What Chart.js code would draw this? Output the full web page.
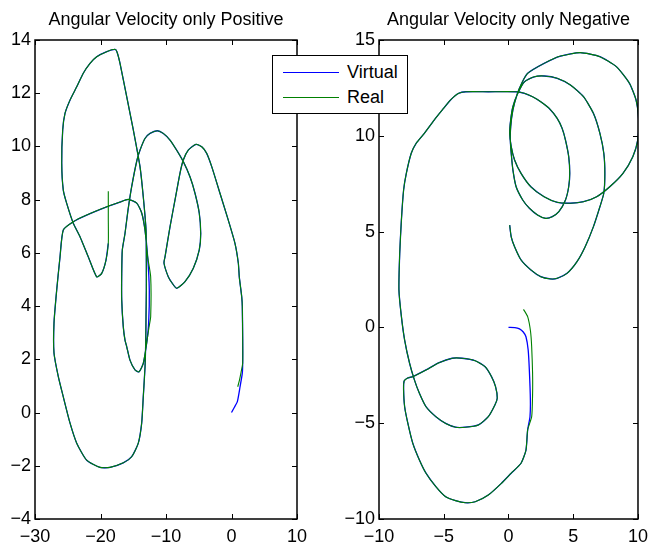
<!DOCTYPE html>
<html>
<head>
<meta charset="utf-8">
<title>Angular Velocity</title>
<script src="https://cdn.jsdelivr.net/npm/chart.js"></script>
<style>
  body { margin: 0; background: #fff; width: 655px; height: 546px; position: relative; overflow: hidden; }
  canvas { position: absolute; top: 0; }
  #legend { position: absolute; left: 272px; top: 55px; width: 134px; height: 57px; background: #fff;
            border: 1px solid #000; font: 18px 'Liberation Sans', Arial, sans-serif; color: #000; z-index: 2; }
  #legend .ln { position: absolute; left: 10px; width: 56px; height: 0; border-top: 1px solid; }
  #legend .tx { position: absolute; left: 74px; line-height: 20px; }
</style>
</head>
<body>
<canvas id="leftChart" width="320" height="546" style="left:0"></canvas>
<canvas id="rightChart" width="315" height="546" style="left:340px"></canvas>
<div id="legend">
  <div class="ln" style="top:16px;border-color:#0000ff"></div><div class="tx" style="top:6px">Virtual</div>
  <div class="ln" style="top:41px;border-color:#008000"></div><div class="tx" style="top:31px">Real</div>
</div>
<script>
// left plot: angular velocity only positive
const leftVirtualStart = [[0,0],[0.38,0.17],[0.89,0.41],[1.30,0.96],[1.65,1.48]];
const leftRealStart = [[0.95,0.97],[1.2,1.2],[1.45,1.50]];
const leftCommonA = [[1.71,1.86],[1.71,2.72],[1.65,3.98],[1.56,4.35],[1.19,5.10],[1.04,5.62],[0.53,6.36],
  [-0.49,7.23],[-1.76,8.24],[-3.02,9.24],[-3.79,9.74],[-4.50,9.98],[-5.42,10.08],[-6.60,9.86],[-7.36,9.49],
  [-7.86,9.00],[-8.63,7.98],[-9.39,6.98],[-10.15,5.85],[-10.31,5.62],[-9.65,5.10],[-9.08,4.87],[-8.37,4.67],
  [-7.10,4.92],[-5.83,5.42],[-4.92,6.11],[-4.70,6.73],[-4.92,7.49],[-5.57,8.24],[-6.34,8.86],[-7.36,9.43],
  [-8.37,9.86],[-9.39,10.24],[-10.41,10.49],[-11.33,10.59],[-12.44,10.49],[-13.21,10.30],[-13.97,9.86],
  [-14.43,9.49],[-15.24,8.49],[-15.80,7.61],[-16.26,6.73],[-16.67,6.11],[-16.76,5.23],[-16.76,4.23],
  [-16.52,3.22],[-16.26,2.72],[-16.00,2.48],[-15.50,1.97],[-14.73,1.60],[-14.12,1.53],[-13.47,1.85]];
const leftVirtualMid = [[-12.95,2.61],[-12.65,3.36],[-12.55,4.60],[-12.8,5.85]];
const leftRealMid = [[-12.95,2.61],[-12.6,3.2],[-12.34,3.6],[-12.34,5.1],[-12.8,5.85]];
const leftCommonB = [[-13.21,6.86],[-13.71,7.50],[-14.47,7.87],[-15.76,8.01],[-17.02,7.91],[-19.05,7.73],
  [-22.11,7.42],[-24.15,7.17],[-25.68,6.86],[-26.18,5.85],[-26.69,4.60],[-27.10,3.36],[-27.10,2.24],
  [-26.44,1.35],[-25.68,0.59],[-24.66,-0.39],[-23.63,-1.15],[-22.11,-1.79],[-20.08,-2.06],[-18.55,-2.06],
  [-16.52,-1.89],[-15.24,-1.66],[-14.23,-1.15],[-13.71,-0.39],[-13.47,0.59],[-13.2,1.72],[-13.1,2.61],
  [-13.05,3.60],[-13.0,4.60],[-13.0,5.62],[-13.05,6.86],[-13.47,8.11],[-13.97,9.24],[-14.99,10.62],
  [-16.00,11.87],[-17.02,13.12],[-17.48,13.55],[-17.79,13.65],[-19.05,13.56],[-20.58,13.37],[-21.60,13.12],
  [-22.63,12.75],[-23.63,12.24],[-24.66,11.74],[-25.42,11.24],[-25.77,10.62],[-25.92,9.37],[-25.68,8.36],
  [-25.16,7.86],[-24.15,7.11],[-23.13,6.61],[-21.86,5.85],[-20.58,5.10],[-19.82,5.23],[-19.16,5.73],[-18.81,6.36]];
const leftRealEnd = [[-18.81,7.3],[-18.81,8.32]];

// right plot: angular velocity only negative
const rightVirtualStart = [[0,0],[0.49,-0.01],[0.85,-0.08],[1.14,-0.24],[1.35,-0.49],[1.52,-1.18],
  [1.61,-2.22],[1.69,-3.79],[1.66,-4.66]];
const rightRealStart = [[1.16,0.94],[1.48,0.56],[1.70,-0.2],[1.79,-1.01],[1.86,-2.38],[1.86,-3.5],[1.79,-4.66]];
const rightCommon = [[1.48,-5.35],[1.35,-6.40],[0.97,-7.09],[0.21,-7.61],[-0.55,-8.14],[-1.56,-8.75],
  [-2.57,-9.10],[-3.33,-9.15],[-4.09,-9.04],[-4.85,-8.84],[-5.61,-8.31],[-6.37,-7.61],[-6.88,-6.92],
  [-7.39,-6.05],[-7.77,-5.01],[-8.02,-4.14],[-8.10,-3.27],[-8.06,-2.80],[-7.79,-2.64],[-7.39,-2.57],
  [-6.37,-2.22],[-5.36,-1.84],[-4.35,-1.61],[-3.59,-1.61],[-2.57,-1.74],[-1.81,-2.05],[-1.31,-2.57],
  [-1.00,-3.09],[-0.87,-3.70],[-1.05,-4.05],[-1.56,-4.66],[-2.32,-5.09],[-3.33,-5.21],[-4.09,-5.21],
  [-4.85,-5.01],[-5.61,-4.66],[-6.37,-4.14],[-6.88,-3.44],[-7.26,-2.75],[-7.64,-1.87],[-8.02,-0.66],
  [-8.27,0.56],[-8.46,1.95],[-8.40,3.87],[-8.27,5.61],[-8.10,7.17],[-7.89,8.04],[-7.51,9.09],[-7.13,9.61],
  [-6.50,10.13],[-5.74,10.82],[-5.11,11.35],[-4.47,11.87],[-3.84,12.22],[-3.29,12.30],[-1.56,12.30],
  [0.59,12.30],[1.23,12.22],[1.86,12.04],[2.49,11.78],[3.13,11.44],[3.76,10.91],[4.14,10.39],[4.40,9.78],
  [4.65,8.91],[4.73,8.04],[4.65,7.34],[4.40,6.65],[3.89,6.04],[3.38,5.78],[2.87,5.69],[2.24,5.87],
  [1.61,6.22],[1.10,6.65],[0.59,7.34],[0.34,8.22],[0.21,9.09],[0.14,9.78],[0.17,10.48],[0.34,11.35],
  [0.65,12.13],[1.03,12.76],[1.48,13.26],[2.75,13.78],[4.02,14.16],[5.54,14.34],[7.06,14.13],[8.33,13.61],
  [9.34,12.74],[9.85,11.87],[10.05,10.83],[9.98,9.78],[9.60,8.91],[8.84,8.04],[7.82,7.34],[6.81,6.82],
  [5.79,6.56],[4.78,6.48],[3.76,6.53],[2.75,6.82],[1.73,7.34],[0.97,8.04],[0.47,8.74],[0.21,9.43],
  [0.09,10.13],[0.17,10.83],[0.34,11.52],[0.72,12.22],[1.23,12.82],[1.99,13.08],[2.75,13.12],[3.76,13.00],
  [4.78,12.65],[5.79,12.04],[6.56,11.17],[7.06,10.13],[7.36,9.09],[7.44,8.04],[7.36,7.00],[7.06,6.30],
  [6.56,5.26],[5.92,4.21],[5.29,3.43],[4.52,2.82],[3.76,2.56],[3.25,2.53],[2.49,2.65],[1.73,3.00],
  [0.97,3.52],[0.47,4.21],[0.21,4.73],[0.09,5.34]];

const leftTitle = 'Angular Velocity only Positive';
const rightTitle = 'Angular Velocity only Negative';
const leftXRange = [-30, 10, 10];
const leftYRange = [-4, 14, 2];
const rightXRange = [-10, 10, 5];
const rightYRange = [-10, 15, 5];

const FONT = "'Liberation Sans', Arial, Helvetica, sans-serif";
const pts = arr => arr.map(([x, y]) => ({ x, y }));

// matlab style box with inward ticks on all four sides
const boxTicks = {
  id: 'boxTicks',
  afterDraw(chart) {
    const { ctx, chartArea: a, scales: { x, y } } = chart;
    ctx.save();
    ctx.strokeStyle = '#000';
    ctx.lineWidth = 1;
    ctx.beginPath();
    x.ticks.forEach(t => {
      const p = Math.round(x.getPixelForValue(t.value)) + 0.5;
      ctx.moveTo(p, a.bottom); ctx.lineTo(p, a.bottom - 5);
      ctx.moveTo(p, a.top); ctx.lineTo(p, a.top + 5);
    });
    y.ticks.forEach(t => {
      const p = Math.round(y.getPixelForValue(t.value)) + 0.5;
      ctx.moveTo(a.left, p); ctx.lineTo(a.left + 5, p);
      ctx.moveTo(a.right, p); ctx.lineTo(a.right - 5, p);
    });
    ctx.stroke();
    ctx.lineWidth = 1.5;
    ctx.strokeRect(a.left, a.top, a.right - a.left, a.bottom - a.top);
    ctx.restore();
  }
};

const tickLabel = v => (v < 0 ? '\u2212' + Math.abs(v) : String(v));

function makeChart(id, title, virtualPts, realPts, xr, yr, yWidth, padRight) {
  return new Chart(document.getElementById(id), {
    type: 'scatter',
    data: {
      datasets: [
        { label: 'Real', data: pts(realPts), borderColor: '#008000', borderWidth: 1.1, showLine: true, pointRadius: 0, tension: 0.2 },
        { label: 'Virtual', data: pts(virtualPts), borderColor: '#0000ff', borderWidth: 1.3, showLine: true, pointRadius: 0, tension: 0.2 }
      ]
    },
    options: {
      responsive: false,
      animation: false,
      devicePixelRatio: 1,
      events: [],
      layout: { padding: { top: 0, right: padRight, bottom: 0, left: 0 } },
      plugins: {
        legend: { display: false },
        tooltip: { enabled: false },
        title: {
          display: true, text: title, color: '#000', fullSize: false,
          font: { family: FONT, size: 18, weight: 'normal', lineHeight: 1.2 },
          padding: { top: 9, bottom: 9.4 }
        }
      },
      scales: {
        x: {
          type: 'linear', min: xr[0], max: xr[1],
          grid: { display: false, drawTicks: false },
          border: { display: false },
          ticks: { stepSize: xr[2], color: '#000', padding: 7, maxRotation: 0, autoSkip: false,
                   font: { family: FONT, size: 18 }, callback: tickLabel },
          afterFit: s => { s.height = 27; }
        },
        y: {
          type: 'linear', min: yr[0], max: yr[1],
          grid: { display: false, drawTicks: false },
          border: { display: false },
          ticks: { stepSize: yr[2], color: '#000', padding: 4, autoSkip: false,
                   font: { family: FONT, size: 18 }, callback: tickLabel },
          afterFit: s => { s.width = yWidth; }
        }
      }
    },
    plugins: [boxTicks]
  });
}

makeChart('leftChart', leftTitle,
  [...leftVirtualStart, ...leftCommonA, ...leftVirtualMid, ...leftCommonB],
  [...leftRealStart, ...leftCommonA, ...leftRealMid, ...leftCommonB, ...leftRealEnd],
  leftXRange, leftYRange, 35, 23);

makeChart('rightChart', rightTitle,
  [...rightVirtualStart, ...rightCommon],
  [...rightRealStart, ...rightCommon],
  rightXRange, rightYRange, 39, 13);
</script>
</body>
</html>
